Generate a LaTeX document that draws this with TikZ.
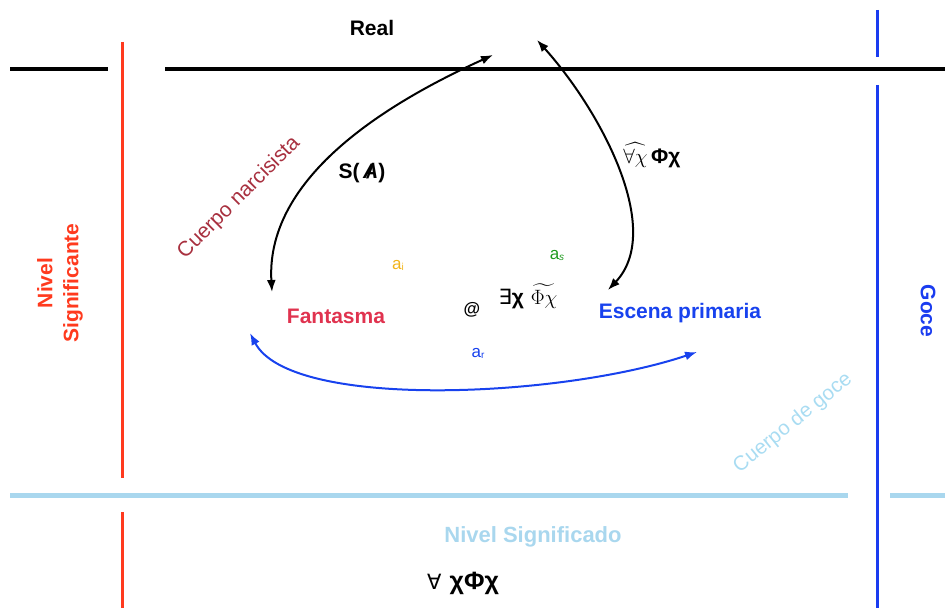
\documentclass[tikz,border=0pt]{standalone}
\usepackage{amsmath,amssymb}
\usepackage{fontspec}
\setmainfont{Liberation Sans}
\newfontfamily\dejavu{DejaVu Sans}
\usetikzlibrary{arrows.meta}
\definecolor{sigred}{HTML}{FF3A1E}
\definecolor{gocblue}{HTML}{1A3CF0}
\definecolor{lblue}{HTML}{A9D7EE}
\definecolor{narc}{HTML}{A8303F}
\definecolor{fant}{HTML}{E0334F}
\definecolor{escblue}{HTML}{1842EE}
\definecolor{aicol}{HTML}{F2B51C}
\definecolor{ascol}{HTML}{1E9A1E}
\definecolor{cgoce}{HTML}{A9DCF2}
\begin{document}
\begin{tikzpicture}[x=1pt,y=-1pt,
  lbl/.style={font=\fontsize{21}{24}\selectfont\bfseries, inner sep=0pt},
  thin/.style={font=\fontsize{21}{24}\selectfont, inner sep=0pt},
  small/.style={font=\fontsize{17}{19}\selectfont, inner sep=0pt},
  arr/.style={line width=2pt, {Latex[length=12pt,width=9pt]}-{Latex[length=12pt,width=9pt]}}]
\useasboundingbox (0,0) rectangle (945,612);
% lines
\coordinate (bk1a) at (10,69); \coordinate (bk1b) at (108,69);
\coordinate (bk2a) at (165,69); \coordinate (bk2b) at (945,69);
\coordinate (rd1a) at (122,42); \coordinate (rd1b) at (122,478);
\coordinate (rd2a) at (122,512); \coordinate (rd2b) at (122,608);
\coordinate (bl1a) at (877,10); \coordinate (bl1b) at (877,57);
\coordinate (bl2a) at (877,85); \coordinate (bl2b) at (877,608);
\coordinate (lb1a) at (10,495); \coordinate (lb1b) at (848,495);
\coordinate (lb2a) at (890,495); \coordinate (lb2b) at (945,495);
\draw[line width=4pt] (bk1a) -- (bk1b);
\draw[line width=4pt] (bk2a) -- (bk2b);
\draw[line width=3pt, sigred] (rd1a) -- (rd1b);
\draw[line width=3pt, sigred] (rd2a) -- (rd2b);
\draw[line width=3pt, gocblue] (bl1a) -- (bl1b);
\draw[line width=3pt, gocblue] (bl2a) -- (bl2b);
\draw[line width=5pt, lblue] (lb1a) -- (lb1b);
\draw[line width=5pt, lblue] (lb2a) -- (lb2b);
% texts
\node[lbl] (real) at (372,28) {Real};
\node[lbl, sigred, rotate=90, align=center, font=\fontsize{21}{26}\selectfont\bfseries] (nsig) at (60,283) {Nivel\\Significante};
\node[lbl, gocblue, rotate=-90] (goce) at (928,311) {Goce};
\node[thin, narc, rotate=45] (cnarc) at (239,198) {Cuerpo narcisista};
\node[thin, cgoce, rotate=39, font=\fontsize{20.5}{24}\selectfont] (cgoce) at (793,423) {Cuerpo de goce};
\node[lbl, fant] (fantasma) at (336,316) {Fantasma};
\node[lbl, escblue] (escena) at (680,313) {Escena primaria};
\node[lbl, lblue, font=\fontsize{22}{24}\selectfont\bfseries] (nsdo) at (533,537) {Nivel Significado};
\node[lbl] (sa) at (362,173) {S(\,\ooalign{\hidewidth\textit{/}\hidewidth\cr\textit{A}})};
\node[lbl, font=\fontsize{17}{19}\selectfont\bfseries] (arroba) at (472,310) {@};
\node[lbl] (exists) at (528,296) {{\dejavu\mdseries\fontsize{21}{22}\selectfont ∃}χ\,\,\textmd{\fontsize{21}{24}\selectfont$\widetilde{\Phi\chi}$}};
\node[lbl] (forallhat) at (652,155) {\textmd{\fontsize{20}{22}\selectfont$\widehat{\forall\chi}$}\,Φχ};
\node[lbl, font=\fontsize{25}{27}\selectfont\bfseries] (forall) at (463,583) {{\dejavu\mdseries\fontsize{21}{22}\selectfont ∀}\,\,χΦχ};
\node[small, aicol] (ai) at (398,265) {a\raisebox{-1pt}{\fontsize{10}{10}\selectfont i}};
\node[small, ascol] (as) at (557,255) {a\raisebox{-1pt}{\fontsize{10}{10}\selectfont\itshape s}};
\node[small, escblue] (ar) at (478,353) {a\raisebox{-1pt}{\fontsize{10}{10}\selectfont r}};
% arrows
\coordinate (a1s) at (272,292); \coordinate (a1e) at (493,55);
\coordinate (a2s) at (537,40); \coordinate (a2e) at (608,290);
\coordinate (a3s) at (250,333); \coordinate (a3e) at (697,352);
\draw[arr] (a1s) .. controls (265,170) and (405,95) .. (a1e);
\draw[arr] (a2s) .. controls (600,110) and (665,230) .. (a2e);
\draw[arr, escblue] (a3s) .. controls (290,410) and (560,398) .. (a3e);
\end{tikzpicture}
\end{document}
